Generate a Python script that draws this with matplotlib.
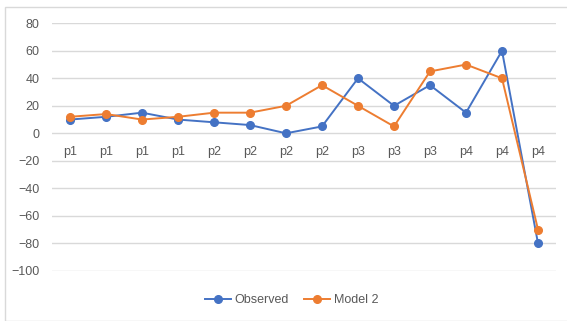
import matplotlib.pyplot as plt
from matplotlib.patches import Rectangle

plt.rcParams['font.family'] = ['Liberation Sans', 'DejaVu Sans']

labels = ['p1', 'p1', 'p1', 'p1', 'p2', 'p2', 'p2', 'p2',
          'p3', 'p3', 'p3', 'p4', 'p4', 'p4']
observed = [10, 12, 15, 10, 8, 6, 0, 5, 40, 20, 35, 15, 60, -80]
model2 = [12, 14, 10, 12, 15, 15, 20, 35, 20, 5, 45, 50, 40, -70]

blue = '#4472C4'
orange = '#ED7D31'
grey_txt = '#595959'
grid_col = '#D9D9D9'

fig = plt.figure(figsize=(5.67, 3.21), dpi=100)
# chart area border
fig.patches.append(Rectangle((5 / 567, 0), 1, 1 - 7 / 321, transform=fig.transFigure,
                             fill=False, edgecolor=grid_col, linewidth=1.0))

ax = fig.add_axes([52 / 567, 1 - 270.8 / 321, 504 / 567, (270.8 - 23.3) / 321])
x = list(range(len(labels)))

for y in range(-100, 81, 20):
    ax.axhline(y, color=grid_col, linewidth=1.0, zorder=0)

ax.plot(x, observed, color=blue, linewidth=1.4, marker='o', markersize=5.5,
        label='Observed', clip_on=False, zorder=3)
ax.plot(x, model2, color=orange, linewidth=1.4, marker='o', markersize=5.5,
        label='Model 2', clip_on=False, zorder=3)

ax.set_xlim(-0.5, len(labels) - 0.5)
ax.set_ylim(-100, 80)
ax.set_yticks(range(-100, 81, 20))
ax.set_xticks([])
ax.tick_params(axis='y', length=0, pad=9, labelsize=9, labelcolor=grey_txt)
for s in ax.spines.values():
    s.set_visible(False)

# category labels sit just under the zero line
for xi, lab in zip(x, labels):
    ax.text(xi, -13.5, lab, ha='center', va='center', fontsize=9, color=grey_txt)

leg = fig.legend(loc='center', bbox_to_anchor=(0.514, 1 - 300 / 321), ncol=2,
                 frameon=False, fontsize=9, handlelength=2.1, columnspacing=1.2,
                 handletextpad=0.3)
for t in leg.get_texts():
    t.set_color(grey_txt)

fig.savefig('out.png', dpi=100)
